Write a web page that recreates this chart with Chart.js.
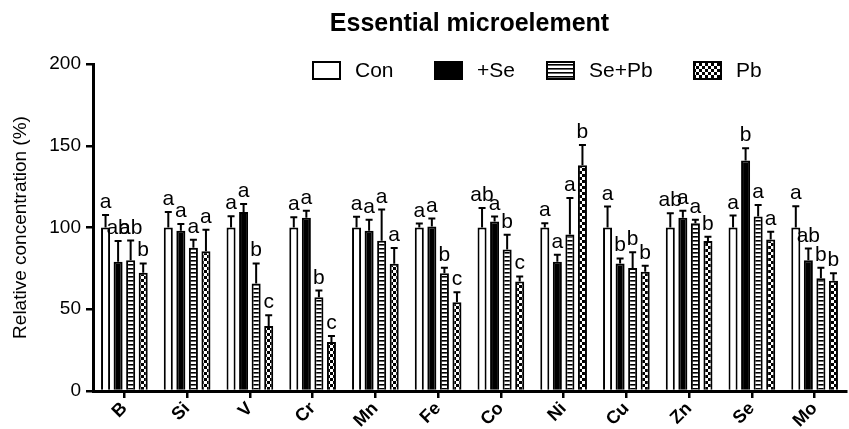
<!DOCTYPE html>
<html>
<head>
<meta charset="utf-8">
<script src="https://cdn.jsdelivr.net/npm/chart.js@4"></script>
<style>
  html, body { margin: 0; padding: 0; background: #fff; }
</style>
</head>
<body>
<canvas id="myChart" width="849" height="429"></canvas>
<script>
const categories = ['B', 'Si', 'V', 'Cr', 'Mn', 'Fe', 'Co', 'Ni', 'Cu', 'Zn', 'Se', 'Mo'];
const seriesNames = ['Con', '+Se', 'Se+Pb', 'Pb'];

const con = [100, 100, 100, 100, 100, 100, 100, 100, 100, 100, 100, 100];
const conErr = [7.7, 9.5, 6.9, 6.3, 6.5, 2.4, 12, 2.6, 12.8, 8.7, 7.3, 13];
const conSig = ['a', 'a', 'a', 'a', 'a', 'a', 'ab', 'a', 'a', 'ab', 'a', 'a'];

const plusSe = [79, 98, 109.5, 106, 98, 100.6, 103.7, 79, 78, 106, 141, 80];
const plusSeErr = [12.7, 4.2, 4.9, 4.3, 6.7, 4.9, 3, 4.3, 3.1, 4.3, 7.4, 7.1];
const plusSeSig = ['ab', 'a', 'a', 'a', 'a', 'a', 'a', 'a', 'b', 'a', 'b', 'ab'];

const sePb = [80, 87.6, 65.7, 57.3, 91.9, 72, 86.6, 95.7, 75.2, 102.6, 106.7, 68.9];
const sePbErr = [12, 4.9, 12.3, 4.1, 19.1, 3.4, 8.9, 22.3, 9.6, 2.1, 7.1, 6.5];
const sePbSig = ['ab', 'a', 'b', 'b', 'a', 'b', 'b', 'a', 'b', 'a', 'a', 'b'];

const pb = [72.4, 85.4, 39.8, 29.9, 77.8, 54.3, 66.9, 138, 73, 91.7, 92.7, 67.5];
const pbErr = [5.6, 13.2, 6.5, 3.8, 9.6, 6.1, 3.2, 12.4, 3.6, 2.6, 4.7, 4.5];
const pbSig = ['b', 'a', 'c', 'c', 'a', 'c', 'c', 'b', 'b', 'b', 'a', 'b'];

const yTicks = [0, 50, 100, 150, 200];

const FONT = "'Liberation Sans', Arial, Helvetica, sans-serif";

// patterns for the bars
function stripePattern() {
    const c = document.createElement('canvas');
    c.width = 4; c.height = 4;
    const g = c.getContext('2d');
    g.fillStyle = '#fff';
    g.fillRect(0, 0, 4, 4);
    g.fillStyle = '#000';
    g.fillRect(0, 0, 4, 1.6);
    return g.createPattern(c, 'repeat');
}
function checkerPattern() {
    const c = document.createElement('canvas');
    c.width = 6; c.height = 6;
    const g = c.getContext('2d');
    g.fillStyle = '#fff';
    g.fillRect(0, 0, 6, 6);
    g.fillStyle = '#000';
    g.fillRect(0, 0, 3, 3);
    g.fillRect(3, 3, 3, 3);
    return g.createPattern(c, 'repeat');
}

const fills = ['#ffffff', '#000000', stripePattern(), checkerPattern()];
const errs = [conErr, plusSeErr, sePbErr, pbErr];
const sigs = [conSig, plusSeSig, sePbSig, pbSig];

// error bars (upper only) + significance letters
const errorBars = {
    id: 'errorBars',
    afterDatasetsDraw(chart) {
        const ctx = chart.ctx;
        const y = chart.scales.y;
        ctx.save();
        ctx.strokeStyle = '#000';
        ctx.lineWidth = 2;
        ctx.fillStyle = '#000';
        ctx.font = '21px ' + FONT;
        ctx.textAlign = 'center';
        ctx.textBaseline = 'alphabetic';
        chart.data.datasets.forEach((ds, i) => {
            const meta = chart.getDatasetMeta(i);
            meta.data.forEach((bar, j) => {
                const top = y.getPixelForValue(ds.data[j] + errs[i][j]);
                ctx.beginPath();
                ctx.moveTo(bar.x, bar.y);
                ctx.lineTo(bar.x, top);
                ctx.moveTo(bar.x - 3.5, top);
                ctx.lineTo(bar.x + 3.5, top);
                ctx.stroke();
                ctx.fillText(sigs[i][j], bar.x, top - 7);
            });
        });
        ctx.restore();
    }
};

// title and legend
const header = {
    id: 'header',
    afterDraw(chart) {
        const ctx = chart.ctx;
        const area = chart.chartArea;
        ctx.save();
        ctx.fillStyle = '#000';
        ctx.font = 'bold 25px ' + FONT;
        ctx.textAlign = 'center';
        ctx.textBaseline = 'middle';
        ctx.fillText('Essential microelement', (area.left + area.right) / 2, 24);

        const boxX = [313, 435, 547, 694];
        ctx.font = '21px ' + FONT;
        ctx.textAlign = 'left';
        seriesNames.forEach((name, i) => {
            ctx.fillStyle = fills[i];
            ctx.fillRect(boxX[i], 62, 27, 17);
            ctx.strokeStyle = '#000';
            ctx.lineWidth = 2;
            ctx.strokeRect(boxX[i], 62, 27, 17);
            ctx.fillStyle = '#000';
            ctx.fillText(name, boxX[i] + 42, 71);
        });
        ctx.restore();
    }
};

const seriesData = [con, plusSe, sePb, pb];

const ctx = document.getElementById('myChart').getContext('2d');
const myChart = new Chart(ctx, {
    type: 'bar',
    data: {
        labels: categories,
        datasets: seriesNames.map((name, i) => ({
            label: name,
            data: seriesData[i],
            backgroundColor: fills[i],
            borderColor: '#000',
            borderWidth: 2,
            categoryPercentage: 0.8,
            barPercentage: 0.72
        }))
    },
    options: {
        responsive: false,
        animation: false,
        layout: { padding: { top: 64, right: 3, left: 0, bottom: 0 } },
        plugins: {
            legend: { display: false },
            title: { display: false },
            tooltip: { enabled: false }
        },
        scales: {
            x: {
                grid: { drawOnChartArea: false, offset: false, color: '#000', lineWidth: 2.5, tickLength: 7 },
                border: { color: '#000', width: 3 },
                ticks: {
                    color: '#000',
                    font: { family: FONT, size: 18, weight: 'bold' },
                    minRotation: 45,
                    maxRotation: 45,
                    padding: 0
                },
                afterFit(scale) { scale.height = 38; }
            },
            y: {
                min: 0,
                max: 200,
                afterBuildTicks(scale) { scale.ticks = yTicks.map(v => ({ value: v })); },
                grid: { drawOnChartArea: false, color: '#000', lineWidth: 2.5, tickLength: 7 },
                border: { color: '#000', width: 3 },
                ticks: {
                    color: '#000',
                    font: { family: FONT, size: 19 },
                    padding: 5
                },
                title: {
                    display: true,
                    text: 'Relative concentration (%)',
                    color: '#000',
                    font: { family: FONT, size: 19 },
                    padding: { top: 9, bottom: 0 }
                },
                afterFit(scale) { scale.width = 93; }
            }
        }
    },
    plugins: [errorBars, header]
});
</script>
</body>
</html>
